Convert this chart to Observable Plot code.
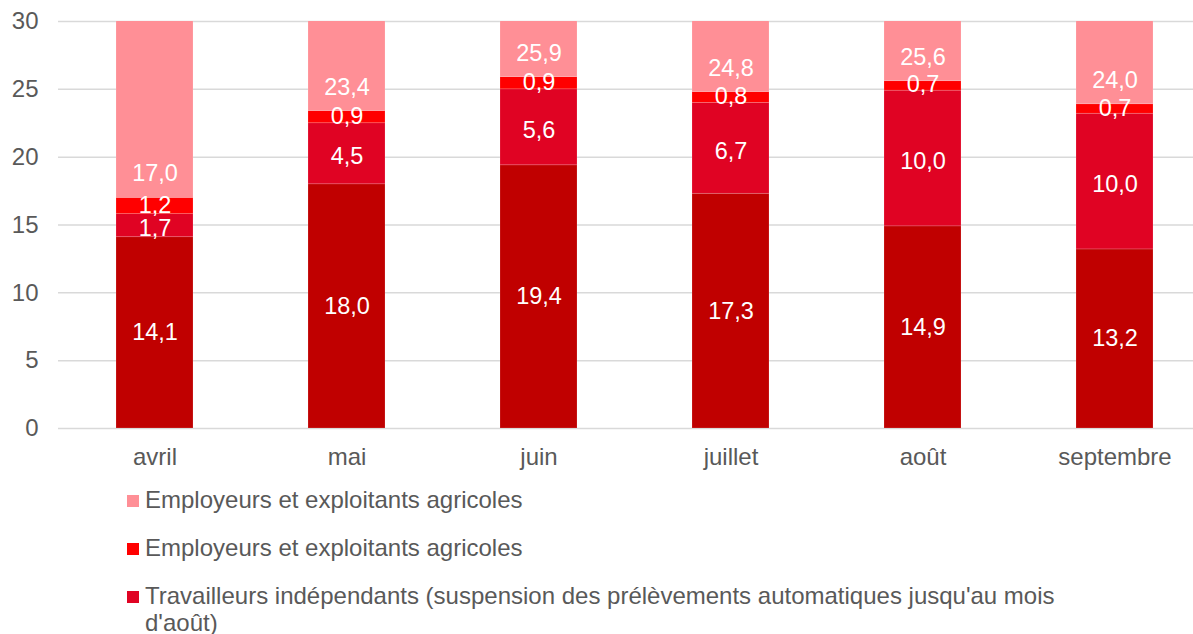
<!DOCTYPE html>
<html>
<head>
<meta charset="utf-8">
<script src="https://cdn.jsdelivr.net/npm/d3@7"></script>
<script src="https://cdn.jsdelivr.net/npm/@observablehq/plot@0.6"></script>
<style>
  html, body { margin: 0; padding: 0; background: #fff; }
  body { width: 1193px; height: 634px; overflow: hidden; font-family: "Liberation Sans", Arial, sans-serif; }
  #legend { padding: 11px 0 0 127px; color: #595959; font-size: 24px; line-height: 27px; }
  .item { display: flex; align-items: flex-start; margin-bottom: 21px; }
  .sw { width: 12px; height: 12px; flex: none; margin-top: 9px; margin-right: 6px; }
  .lab { max-width: 940px; }
</style>
</head>
<body>
<div id="chart"></div>
<div id="legend"></div>
<script>
const months = ["avril", "mai", "juin", "juillet", "août", "septembre"];
// bottom → top
const seriesKeys = ["ti", "tiSusp", "emp", "empTotal"];
const seriesNames = [
  "Travailleurs indépendants",
  "Travailleurs indépendants (suspension des prélèvements automatiques jusqu'au mois d'août)",
  "Employeurs et exploitants agricoles",
  "Employeurs et exploitants agricoles"
];
const seriesColors = ["#C00000", "#E00323", "#FF0000", "#FF8F96"];
const tiValues = [14.1, 18.0, 19.4, 17.3, 14.9, 13.2];
const tiSuspValues = [1.7, 4.5, 5.6, 6.7, 10.0, 10.0];
const empValues = [1.2, 0.9, 0.9, 0.8, 0.7, 0.7];
const empTotalValues = [17.0, 23.4, 25.9, 24.8, 25.6, 24.0];
const yTicks = [0, 5, 10, 15, 20, 25, 30];
const legendOrder = [3, 2, 1]; // indices shown in legend

const valuesBySeries = [tiValues, tiSuspValues, empValues, empTotalValues];
const rows = [];
months.forEach((m, i) => {
  let base = 0;
  seriesKeys.forEach((k, s) => {
    const v = valuesBySeries[s][i];
    rows.push({month: m, series: k, value: v, y1: base, y2: base + v, idx: s});
    base += v;
  });
});
const fmt = v => d3.format(".1f")(v).replace(".", ",");

const bottomRows = rows.filter(d => d.series === "ti");
const suspRows = rows.filter(d => d.series === "tiSusp");
const empRows = rows.filter(d => d.series === "emp");
const topRows = rows.filter(d => d.series === "empTotal");

const chart = Plot.plot({
  width: 1193,
  height: 475,
  marginLeft: 58,
  marginRight: -17,
  marginTop: 21,
  marginBottom: 47,
  style: {fontFamily: "'Liberation Sans', Arial, sans-serif", fontSize: "24px", color: "#595959", background: "#fff"},
  x: {domain: months, paddingInner: 0.6, paddingOuter: 0.3, label: null, tickSize: 0, tickPadding: 19},
  y: {domain: [0, 30], ticks: yTicks, label: null, tickSize: 0, tickPadding: 20},
  color: {domain: seriesKeys, range: seriesColors},
  marks: [
    Plot.ruleY(yTicks, {stroke: "#d9d9d9", strokeWidth: 1.5}),
    Plot.barY(rows, {x: "month", y1: "y1", y2: "y2", fill: "series", clip: true, stroke: "#ffffff", strokeOpacity: 0.2, strokeWidth: 0.75}),
    Plot.text(bottomRows, {x: "month", y: d => (d.y1 + d.y2) / 2, text: d => fmt(d.value), fill: "#fff", fontSize: 23.5}),
    Plot.text(suspRows, {x: "month", y: d => (d.y1 + d.y2) / 2, dy: 3, text: d => fmt(d.value), fill: "#fff", fontSize: 23.5}),
    Plot.text(empRows, {x: "month", y: d => (d.y1 + d.y2) / 2, dy: -1, text: d => fmt(d.value), fill: "#fff", fontSize: 23.5}),
    Plot.text(topRows, {x: "month", y: "y1", dy: -24, text: d => fmt(d.value), fill: "#fff", fontSize: 23.5})
  ]
});
document.getElementById("chart").appendChild(chart);

const legend = document.getElementById("legend");
legendOrder.forEach(s => {
  const it = document.createElement("div");
  it.className = "item";
  const sw = document.createElement("div");
  sw.className = "sw";
  sw.style.background = seriesColors[s];
  const lab = document.createElement("div");
  lab.className = "lab";
  lab.textContent = seriesNames[s];
  it.appendChild(sw); it.appendChild(lab);
  legend.appendChild(it);
});
</script>
</body>
</html>
